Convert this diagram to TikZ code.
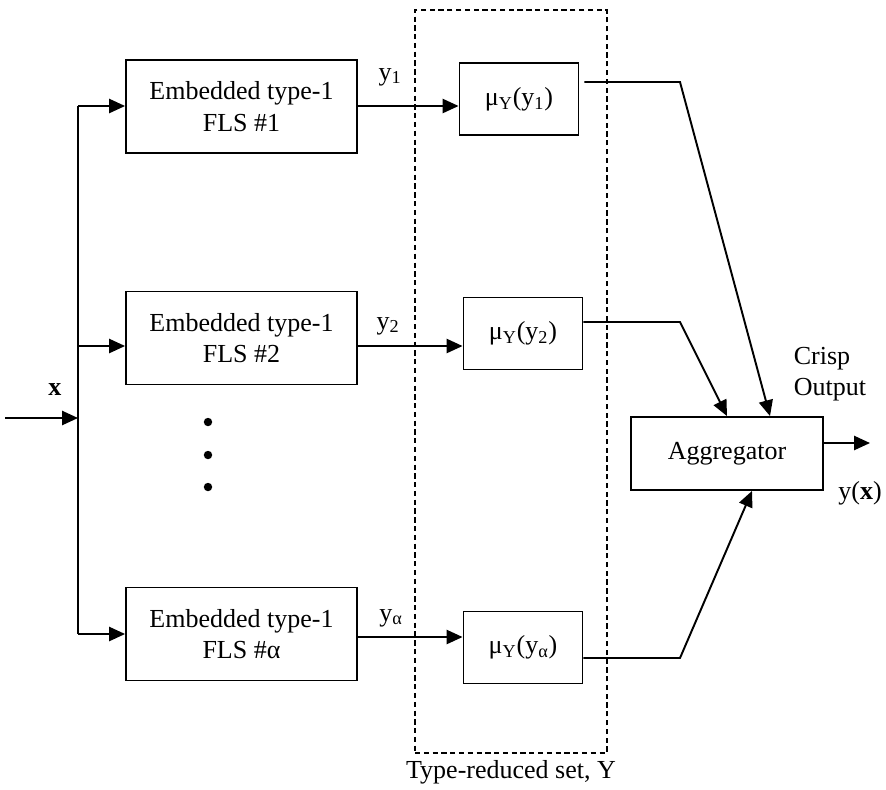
\documentclass[tikz,border=0pt]{standalone}
\usepackage{fontspec}
\setmainfont{Liberation Serif}
\usetikzlibrary{arrows.meta,positioning,calc}

\begin{document}
\begin{tikzpicture}[x=0.02cm, y=-0.02cm, line width=1.1pt,
  >={Triangle[length=9pt,width=8pt]},
  every node/.style={font=\fontsize{14.8}{18}\selectfont},
  flsbox/.style={draw, align=center, minimum width=4.62cm, minimum height=1.86cm, inner sep=0pt},
  mubox/.style={draw, minimum width=2.38cm, minimum height=1.44cm, inner sep=0pt},
  dot/.style={circle, fill, inner sep=0pt, minimum size=4.8pt}]
\useasboundingbox (0,0) rectangle (886,789);

% embedded type-1 FLSs
\node [flsbox] (fls1) at (241.5,106.5) {Embedded type-1\\FLS \#1};
\node [flsbox] (fls2) at (241.5,338) {Embedded type-1\\FLS \#2};
\node [flsbox] (flsa) at (241.5,634) {Embedded type-1\\FLS \#α};

\foreach \i/\y in {1/422, 2/455, 3/487}
  \node [dot] (dot\i) at (208,\y) {};

% type-reduced set
\node [draw, dashed, dash pattern=on 3pt off 2pt, line width=0.9pt,
  minimum width=3.84cm, minimum height=14.86cm] (trset) at (511,381.5) {};
\node [below=0pt of trset] (trlabel) {Type-reduced set, Y};

\node [mubox] (mu1) at (519,99) {μ\textsubscript{Y}(y\textsubscript{1})};
\node [mubox] (mu2) at (523,333.5) {μ\textsubscript{Y}(y\textsubscript{2})};
\node [mubox] (mua) at (523,647.5) {μ\textsubscript{Y}(y\textsubscript{α})};

\node [draw, minimum width=3.84cm, minimum height=1.46cm, inner sep=0pt] (agg) at (727,453.5) {Aggregator};

% input
\coordinate (xin) at (5,418);
\coordinate (bus) at (78,418);
\coordinate (r1) at (78,106);
\coordinate (r2) at (78,346);
\coordinate (ra) at (78,634);
\node (xlabel) at (55,390) {\textbf{x}};

\draw [->] (xin) -- (bus);
\draw (r1) -- (ra);
\draw [->] (r1) -- (r1 -| fls1.west);
\draw [->] (r2) -- (r2 -| fls2.west);
\draw [->] (ra) -- (ra -| flsa.west);

% crisp outputs of the FLSs
\draw [->] (fls1.east |- r1) -- (mu1.west |- r1);
\draw [->] (fls2.east |- r2) -- (mu2.west |- r2);
\draw [->] (flsa.east |- 0,637) -- (mua.west |- 0,637);
\node (y1) at (390,77) {y\textsubscript{1}};
\node (y2) at (388,326) {y\textsubscript{2}};
\node (ya) at (391,618) {y\textsubscript{α}};

% to aggregator
\coordinate (k1) at (680,82);
\coordinate (k2) at (680,322);
\coordinate (ka) at (680,658);
\draw [->] ($(mu1.east |- k1)+(5,0)$) -- (k1) -- ($(agg.north)+(43,0)$);
\draw [->] (mu2.east |- k2) -- (k2) -- (agg.north);
\draw [->] (mua.east |- ka) -- (ka) -- ($(agg.south)+(25,0)$);

% output
\coordinate (yout) at (870,443);
\draw [->] (agg.east |- yout) -- (yout);
\node [align=left] (crisp) at (830,374) {Crisp\\Output};
\node (ylabel) at (860,493) {y(\textbf{x})};

\end{tikzpicture}
\end{document}
